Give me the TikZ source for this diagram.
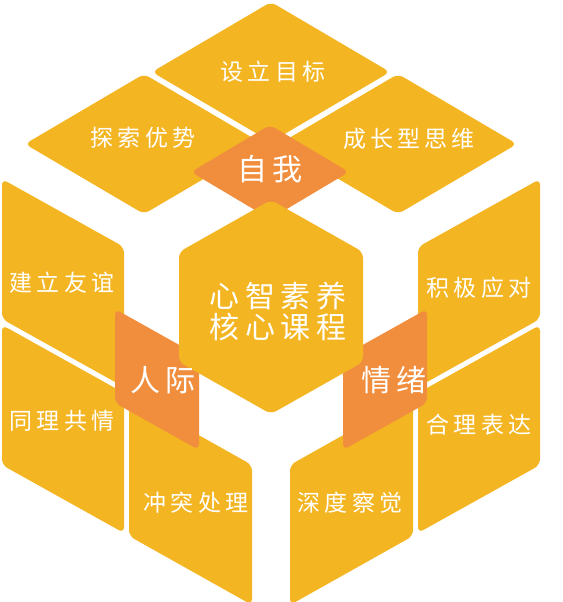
\documentclass[tikz,border=0pt]{standalone}
\usepackage{fontspec}
\newfontfamily\cjk[LetterSpace=18]{Noto Sans CJK SC}
\usetikzlibrary{positioning}
\definecolor{cubeyellow}{RGB}{244,181,34}
\definecolor{cubeorange}{RGB}{241,142,61}

\begin{document}
\begin{tikzpicture}[x=1pt, y=-1pt,
      cell/.style={fill=cubeyellow, rounded corners=6pt},
      hub/.style={fill=cubeorange, rounded corners=6pt},
      lbl/.style={text=white, inner sep=0pt, font=\cjk\fontsize{23}{27}\selectfont},
      biglbl/.style={lbl, align=center, font=\cjk\fontsize{30}{31}\selectfont}]
    \useasboundingbox (0,0) rectangle (562,602);
    % top face
    \fill[cell] (152,72) -- (271,2) -- (390,72) -- (271,142) -- cycle;
    \fill[cell] (25,144) -- (144,74) -- (263,144) -- (144,214) -- cycle;
    \fill[cell] (279,144) -- (398,74) -- (517,144) -- (398,214) -- cycle;
    \fill[hub]  (191,172) -- (270,125) -- (349,172) -- (270,219) -- cycle;
    % left face
    \fill[cell] (2,179) -- (124,247) -- (124,387) -- (2,319) -- cycle;
    \fill[cell] (2,325) -- (124,393) -- (124,533) -- (2,465) -- cycle;
    \fill[cell] (129,396) -- (252,465) -- (252,605) -- (129,536) -- cycle;
    \fill[hub]  (115,309) -- (199,356) -- (199,450) -- (115,403) -- cycle;
    % right face
    \fill[cell] (540,179) -- (418,247) -- (418,387) -- (540,319) -- cycle;
    \fill[cell] (540,325) -- (418,393) -- (418,533) -- (540,465) -- cycle;
    \fill[cell] (413,396) -- (290,465) -- (290,605) -- (413,536) -- cycle;
    \fill[hub]  (427,309) -- (343,356) -- (343,450) -- (427,403) -- cycle;
    % core hexagon
    \fill[cell] (271,200) -- (363,252) -- (363,362) -- (271,414)
                -- (179,362) -- (179,252) -- cycle;

    \node[lbl] (goal)     at (273,72)  {设立目标};
    \node[lbl] (strength) at (143,138) {探索优势};
    \node[lbl] (growth)   at (409,139) {成长型思维};
    \node[biglbl] (self)  at (270,169) {自我};
    \node[biglbl] (core)  at (278,311) {心智素养\\核心课程};
    \node[lbl] (friend)   at (62,283)  {建立友谊};
    \node[lbl] (empathy)  at (62,421)  {同理共情};
    \node[lbl] (conflict) at (196,503) {冲突处理};
    \node[biglbl] (social) at (163,380) {人际};
    \node[lbl] (cope)     at (479,288) {积极应对};
    \node[lbl] (express)  at (479,425) {合理表达};
    \node[lbl] (aware)    at (350,503) {深度察觉};
    \node[biglbl] (emotion) at (394,380) {情绪};
  \end{tikzpicture}
\end{document}
